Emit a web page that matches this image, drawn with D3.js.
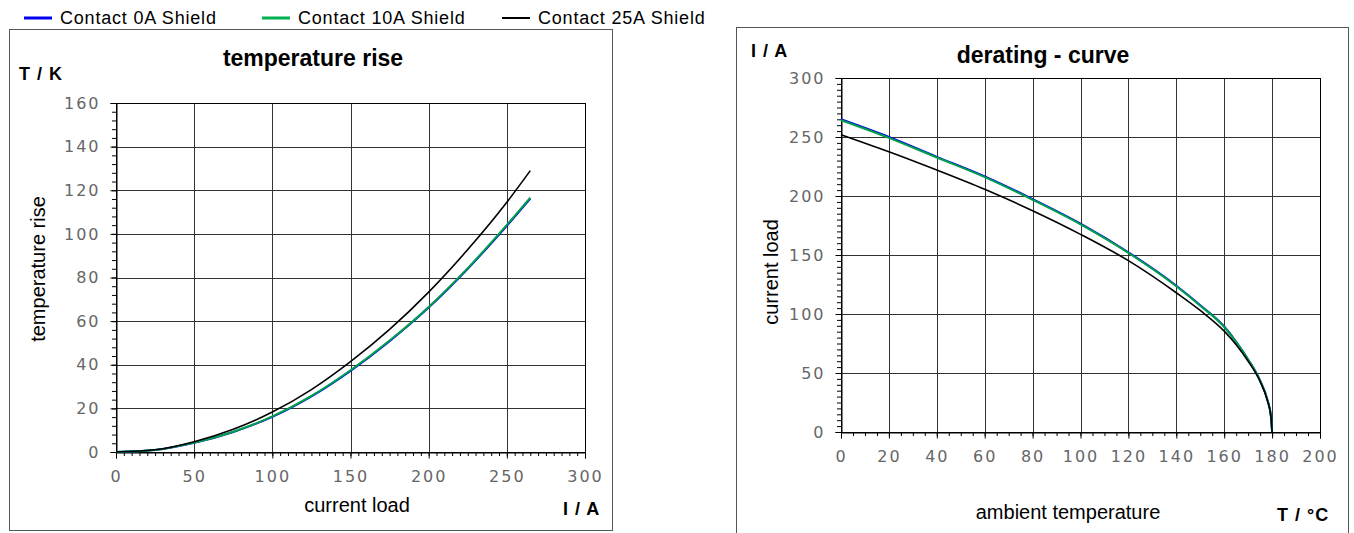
<!DOCTYPE html>
<html>
<head>
<meta charset="utf-8">
<script src="https://cdn.jsdelivr.net/npm/d3@7"></script>
<style>
  html, body { margin: 0; padding: 0; background: #fff; }
  svg { display: block; font-family: "Liberation Sans", Arial, sans-serif; }
  .tick text { font-family: "DejaVu Sans", sans-serif; font-size: 16px; fill: #666; letter-spacing: 2px; }
</style>
</head>
<body>
<svg id="chart" width="1354" height="533"></svg>
<script>
// --- data ---
const seriesNames = ['Contact 0A Shield', 'Contact 10A Shield', 'Contact 25A Shield']
const seriesColors = ['#0000ee', '#00a04a', '#000000']

// temperature rise (T / K) over current load (I / A)
const currentLoad = [0, 25, 50, 75, 100, 125, 150, 175, 200, 225, 250, 265]
const rise0A  = [0, 0.9, 4.2, 9.2, 16.1, 25.5, 37.2, 50.8, 66.2, 84.0, 103.7, 116.2]
const rise10A = [0, 0.9, 4.3, 9.3, 16.3, 25.7, 37.5, 51.1, 66.5, 84.3, 104.1, 116.6]
const rise25A = [0, 1.0, 4.7, 10.4, 18.3, 28.6, 41.4, 56.2, 73.3, 92.8, 114.5, 129.0]

// derating curve (I / A) over ambient temperature (T / °C)
const ambientTemp = [0, 20, 40, 60, 80, 100, 120, 140, 150, 160, 165, 170, 175, 178, 179.5, 180]
const derate0A  = [265.0, 250.0, 233.2, 216.6, 197.4, 176.6, 152.3, 124.0, 107.5, 89.4, 76.5, 61.5, 43.5, 27.5, 13.5, 0]
const derate10A = [264.2, 249.3, 232.6, 216.0, 196.8, 176.0, 151.8, 123.5, 107.0, 89.0, 76.2, 61.3, 43.4, 27.4, 13.5, 0]
const derate25A = [252.0, 237.5, 222.0, 205.7, 187.5, 167.5, 145.2, 118.0, 103.0, 85.5, 74.0, 60.0, 42.8, 27.0, 13.2, 0]

const riseTicksX = [0, 50, 100, 150, 200, 250, 300]
const riseTicksY = [0, 20, 40, 60, 80, 100, 120, 140, 160]
const derateTicksX = [0, 20, 40, 60, 80, 100, 120, 140, 160, 180, 200]
const derateTicksY = [0, 50, 100, 150, 200, 250, 300]

const svg = d3.select('#chart')
svg.append('rect').attr('width', 1354).attr('height', 533).attr('fill', '#fff')

// legend across the top
const legendX = [24, 262, 502]
const legend = svg.append('g').attr('class', 'legend')
seriesNames.forEach((name, i) => {
  legend.append('line')
    .attr('x1', legendX[i]).attr('x2', legendX[i] + 28)
    .attr('y1', 18).attr('y2', 18)
    .attr('stroke', i === 1 ? '#00b050' : seriesColors[i])
    .attr('stroke-width', i === 2 ? 2 : 3)
  legend.append('text')
    .attr('x', legendX[i] + 36).attr('y', 24)
    .attr('font-size', '18px').attr('letter-spacing', '0.8px').attr('fill', '#000')
    .text(name)
})

// panel frames
svg.append('rect').attr('x', 9.5).attr('y', 29.5).attr('width', 603).attr('height', 501)
  .attr('fill', 'none').attr('stroke', '#555').attr('stroke-width', 1)
svg.append('rect').attr('x', 736.5).attr('y', 27.5).attr('width', 612).attr('height', 520)
  .attr('fill', 'none').attr('stroke', '#555').attr('stroke-width', 1)

function drawPanel(cfg) {
  const x = d3.scaleLinear().domain(cfg.xDomain).range(cfg.xRange)
  const y = d3.scaleLinear().domain(cfg.yDomain).range(cfg.yRange)
  const g = svg.append('g')

  // grid
  g.append('g').selectAll('line.gx').data(cfg.xTicks).enter().append('line')
    .attr('x1', d => Math.round(x(d)) + 0.5).attr('x2', d => Math.round(x(d)) + 0.5)
    .attr('y1', cfg.yRange[0]).attr('y2', cfg.yRange[1])
    .attr('stroke', '#333').attr('stroke-width', 1)
  g.append('g').selectAll('line.gy').data(cfg.yTicks).enter().append('line')
    .attr('y1', d => Math.round(y(d)) + 0.5).attr('y2', d => Math.round(y(d)) + 0.5)
    .attr('x1', cfg.xRange[0]).attr('x2', cfg.xRange[1])
    .attr('stroke', '#333').attr('stroke-width', 1)

  // minor ticks
  const minorX = d3.range(cfg.xDomain[0], cfg.xDomain[1] + 0.001, cfg.xMinor)
  const minorY = d3.range(cfg.yDomain[0], cfg.yDomain[1] + 0.001, cfg.yMinor)
  g.append('g').call(d3.axisBottom(x).tickValues(minorX).tickSize(4).tickFormat(''))
    .attr('transform', `translate(0,${Math.round(cfg.yRange[0])})`)
    .call(a => a.select('.domain').remove())
    .call(a => a.selectAll('line').attr('stroke', '#000'))
  g.append('g').call(d3.axisLeft(y).tickValues(minorY).tickSize(4).tickFormat(''))
    .attr('transform', `translate(${Math.round(cfg.xRange[0])},0)`)
    .call(a => a.select('.domain').remove())
    .call(a => a.selectAll('line').attr('stroke', '#000'))

  // major axes with labels
  g.append('g').attr('transform', `translate(0,${Math.round(cfg.yRange[0]) + 0.5})`)
    .call(d3.axisBottom(x).tickValues(cfg.xTicks).tickSize(6).tickPadding(12).tickFormat(d3.format('d')))
    .call(a => a.select('.domain').attr('stroke', '#000'))
    .call(a => a.selectAll('.tick line').attr('stroke', '#000'))
  g.append('g').attr('transform', `translate(${Math.round(cfg.xRange[0]) + 0.5},0)`)
    .call(d3.axisLeft(y).tickValues(cfg.yTicks).tickSize(6).tickPadding(10).tickFormat(d3.format('d')))
    .call(a => a.select('.domain').attr('stroke', '#000'))
    .call(a => a.selectAll('.tick line').attr('stroke', '#000'))

  // plot frame
  g.append('rect')
    .attr('x', Math.round(cfg.xRange[0]) + 0.5).attr('y', Math.round(cfg.yRange[1]) + 0.5)
    .attr('width', Math.round(cfg.xRange[1]) - Math.round(cfg.xRange[0]))
    .attr('height', Math.round(cfg.yRange[0]) - Math.round(cfg.yRange[1]))
    .attr('fill', 'none').attr('stroke', '#000')

  // curves
  const line = d3.line()
    .x(d => x(d[0])).y(d => y(d[1]))
    .curve(d3.curveMonotoneX)
  cfg.series.forEach((vals, i) => {
    g.append('path')
      .datum(cfg.xValues.map((v, j) => [v, vals[j]]))
      .attr('d', line)
      .attr('fill', 'none')
      .attr('stroke', seriesColors[i])
      .attr('stroke-width', i === 2 ? 1.6 : 2)
  })

  // titles and axis captions
  g.append('text').attr('x', cfg.title[1]).attr('y', cfg.title[2])
    .attr('text-anchor', 'middle').attr('font-size', '23px').attr('font-weight', 'bold')
    .text(cfg.title[0])
  g.append('text').attr('x', cfg.yUnit[1]).attr('y', cfg.yUnit[2])
    .attr('font-size', '18px').attr('font-weight', 'bold').attr('letter-spacing', '1px')
    .text(cfg.yUnit[0])
  g.append('text').attr('x', cfg.xUnit[1]).attr('y', cfg.xUnit[2])
    .attr('font-size', '18px').attr('font-weight', 'bold').attr('letter-spacing', '1px')
    .text(cfg.xUnit[0])
  g.append('text').attr('x', cfg.xLabel[1]).attr('y', cfg.xLabel[2])
    .attr('text-anchor', 'middle').attr('font-size', '20px').text(cfg.xLabel[0])
  g.append('text')
    .attr('transform', `translate(${cfg.yLabel[1]},${cfg.yLabel[2]}) rotate(-90)`)
    .attr('text-anchor', 'middle').attr('font-size', '20px').text(cfg.yLabel[0])
}

drawPanel({
  xDomain: [0, 300], xRange: [116, 585],
  yDomain: [0, 160], yRange: [452, 103],
  xTicks: riseTicksX, yTicks: riseTicksY,
  xMinor: 5, yMinor: 4,
  xValues: currentLoad,
  series: [rise0A, rise10A, rise25A],
  title: ['temperature rise', 313, 66],
  yUnit: ['T / K', 19, 80],
  xUnit: ['I / A', 563, 515],
  xLabel: ['current load', 357, 512],
  yLabel: ['temperature rise', 45, 269]
})

drawPanel({
  xDomain: [0, 200], xRange: [841, 1320],
  yDomain: [0, 300], yRange: [432, 78],
  xTicks: derateTicksX, yTicks: derateTicksY,
  xMinor: 5, yMinor: 5,
  xValues: ambientTemp,
  series: [derate0A, derate10A, derate25A],
  title: ['derating - curve', 1043, 63],
  yUnit: ['I / A', 751, 57],
  xUnit: ['T / °C', 1277, 521],
  xLabel: ['ambient temperature', 1068, 519],
  yLabel: ['current load', 778, 272]
})
</script>
</body>
</html>
